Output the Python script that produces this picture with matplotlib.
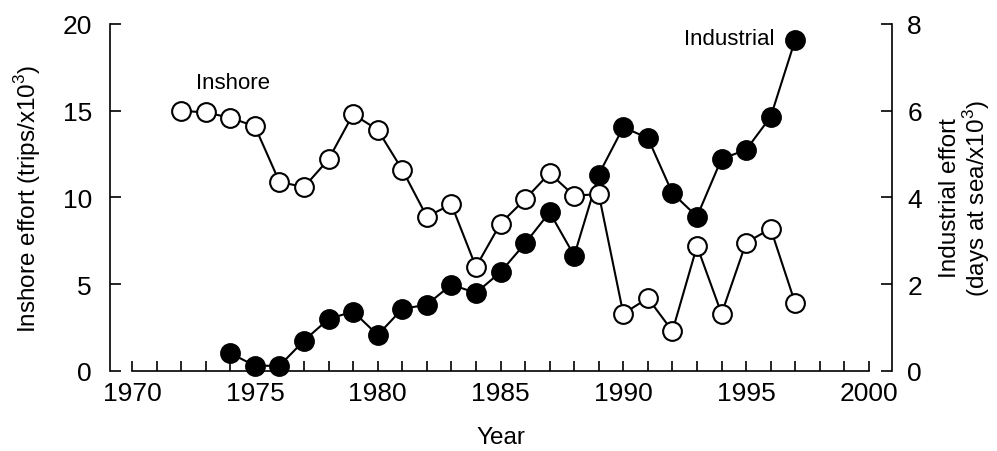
import matplotlib.pyplot as plt

plt.rcParams["font.family"] = ["Liberation Sans", "DejaVu Sans"]
plt.rcParams["mathtext.fontset"] = "custom"
plt.rcParams["mathtext.rm"] = "Liberation Sans"

years_inshore = list(range(1972, 1998))
inshore = [15.0, 14.9, 14.6, 14.1, 10.9, 10.6, 12.2, 14.8, 13.9, 11.6, 8.9, 9.6, 6.0,
           8.5, 9.9, 11.4, 10.1, 10.2, 3.3, 4.2, 2.3, 7.2, 3.3, 7.4, 8.2, 3.9]

years_industrial = list(range(1974, 1998))
industrial = [0.41, 0.12, 0.12, 0.70, 1.20, 1.37, 0.83, 1.43, 1.53, 1.99, 1.80,
              2.28, 2.94, 3.66, 2.66, 4.53, 5.62, 5.37, 4.10, 3.56, 4.89, 5.10, 5.86, 7.64]

fig = plt.figure(figsize=(9.97, 4.52), dpi=100)
ax = fig.add_axes([0.1103, 0.177, 0.7844, 0.7677])
ax2 = ax.twinx()

# industrial (right axis), filled circles
ax2.plot(years_industrial, industrial, "-o", color="black", lw=1.5,
         ms=13.5, mfc="black", mec="black", mew=1.5, clip_on=False)
# inshore (left axis), open circles, drawn on top
ax.plot(years_inshore, inshore, "-o", color="black", lw=1.5,
        ms=13.5, mfc="white", mec="black", mew=1.5, clip_on=False)
ax.set_zorder(ax2.get_zorder() + 1)
ax.patch.set_visible(False)

ax.set_xlim(1969.1, 2000.94)
ax.set_ylim(0, 20)
ax2.set_ylim(0, 8)

ax.set_xticks(range(1970, 2001, 5))
ax.set_xticks(range(1970, 2001), minor=True)
ax.set_yticks(range(0, 21, 5))
ax2.set_yticks(range(0, 9, 2))

for a in (ax, ax2):
    a.spines["top"].set_visible(False)
    for s in a.spines.values():
        s.set_linewidth(1.2)
ax.spines["right"].set_visible(False)
ax2.spines["left"].set_visible(False)
ax2.spines["bottom"].set_visible(False)
ax.spines["bottom"].set_bounds(1970, 2000)
ax.spines["left"].set_bounds(0, 20)
ax2.spines["right"].set_bounds(0, 8)

ax.tick_params(axis="x", which="both", direction="in", length=7, width=1.2,
               labelsize=19, pad=7)
ax.tick_params(axis="y", direction="in", length=8, width=1.2, labelsize=19, pad=13)
ax2.tick_params(axis="y", direction="in", length=8, width=1.2, labelsize=19, pad=11)

ax.set_xlabel("Year", fontsize=17.5, labelpad=15)
ax.set_ylabel("Inshore effort (trips/x10$^3$)", fontsize=17.5, labelpad=14)
ax2.set_ylabel("Industrial effort\n(days at sea/x10$^3$)", fontsize=17.5,
               labelpad=12, linespacing=1.0)

ax.text(1974.1, 16.6, "Inshore", fontsize=16, ha="center", va="center")
ax2.text(1994.3, 7.67, "Industrial", fontsize=16, ha="center", va="center")

fig.savefig("out.png", dpi=100)
